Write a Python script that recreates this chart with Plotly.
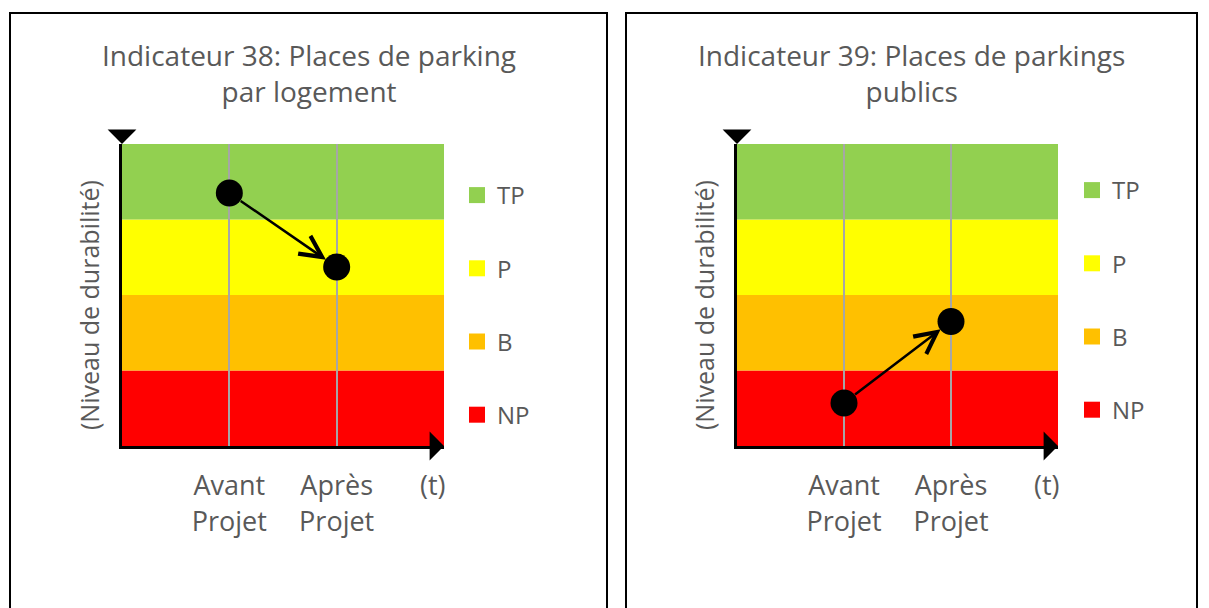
import plotly.graph_objects as go

# ---- data ----
levels = ["NP", "B", "P", "TP"]                     # bottom -> top
level_colors = ["#FF0000", "#FFC000", "#FFFF00", "#92D050"]
phases = ["Avant<br>Projet", "Après<br>Projet"]
phase_x = [1, 2]
titles = ["Indicateur 38: Places de parking<br>par logement",
          "Indicateur 39: Places de parkings<br>publics"]
values_38 = [3.35, 2.37]
values_39 = [0.57, 1.65]
series = [values_38, values_39]
y_title = "(Niveau de durabilité)"
t_label = "(t)"

# page has an 8px body margin: lay out in window pixels, shifted
OFF = 8
W, H = 1209 - OFF, 608 - OFF
FONT = "Open Sans"
GREY = "#595959"


def fx(px):
    return (px - OFF) / W


def fy(py):
    return 1 - (py - OFF) / H


fig = go.Figure()

plot_px = [(122, 444), (737, 1058)]
plot_top, plot_bot = 144, 446
panel_px = [(10, 607), (626, 1197)]
legend_top = [173, 168]

for p in range(2):
    xa = "x" if p == 0 else "x2"
    ya = "y" if p == 0 else "y2"
    leg = "legend" if p == 0 else "legend2"
    for name, col in zip(levels[::-1], level_colors[::-1]):
        fig.add_trace(go.Scatter(x=[None], y=[None], mode="markers", name=name,
                                 marker=dict(symbol="square", size=17, color=col),
                                 legend=leg, legendgroup=f"{p}{name}",
                                 xaxis=xa, yaxis=ya, hoverinfo="skip"))
    for i, col in enumerate(level_colors):
        fig.add_shape(type="rect", xref=xa, yref=ya, x0=0, x1=3, y0=i, y1=i + 1,
                      fillcolor=col, line_width=0, layer="below")
    fig.add_trace(go.Scatter(x=phase_x, y=series[p], mode="markers",
                             marker=dict(size=27, color="black"),
                             showlegend=False, xaxis=xa, yaxis=ya))
    fig.add_annotation(x=phase_x[1], y=series[p][1], ax=phase_x[0], ay=series[p][0],
                       xref=xa, yref=ya, axref=xa, ayref=ya, text="",
                       showarrow=True, arrowhead=5, arrowsize=1.7, arrowwidth=2.5,
                       arrowcolor="black", standoff=13, startstandoff=12)
    fig.add_annotation(x=3, y=0, xref=xa, yref=ya, ax=-12, ay=0, text="",
                       showarrow=True, arrowhead=1, arrowsize=1.6, arrowwidth=3,
                       arrowcolor="black")
    fig.add_annotation(x=0, y=4, xref=xa, yref=ya, ax=0, ay=-12, text="",
                       showarrow=True, arrowhead=1, arrowsize=1.6, arrowwidth=3,
                       arrowcolor="black")
    fig.add_annotation(x=2.9, y=0, xref=xa, yref=ya, yshift=-38, text=t_label,
                       showarrow=False, font=dict(family=FONT, size=27, color=GREY))
    cx = (panel_px[p][0] + panel_px[p][1]) / 2
    fig.add_annotation(x=fx(cx), y=fy(73.5), xref="paper", yref="paper", text=titles[p],
                       showarrow=False, xanchor="center", yanchor="middle",
                       font=dict(family=FONT, size=28, color=GREY))
    fig.add_annotation(x=fx(plot_px[p][0] - 33), y=fy(305), xref="paper", yref="paper",
                       text=y_title, textangle=-90, showarrow=False,
                       xanchor="center", yanchor="middle",
                       font=dict(family=FONT, size=25, color=GREY))
    fig.add_shape(type="rect", xref="paper", yref="paper",
                  x0=fx(panel_px[p][0]), x1=fx(panel_px[p][1]),
                  y0=-0.05, y1=fy(13), line=dict(color="black", width=2),
                  fillcolor="rgba(0,0,0,0)", layer="above")

xcommon = dict(range=[0, 3], tickvals=[1, 2, 3], ticktext=phases + [""],
               showgrid=True, gridcolor="#A6A6A6", gridwidth=2, zeroline=False,
               showline=True, linecolor="black", linewidth=3, ticks="",
               ticklabelstandoff=14,
               tickfont=dict(family=FONT, size=27, color=GREY), fixedrange=True)
ycommon = dict(range=[0, 4], showgrid=False, zeroline=False, showticklabels=False,
               showline=True, linecolor="black", linewidth=3, ticks="",
               fixedrange=True)

ydom = [fy(plot_bot), fy(plot_top)]
legcommon = dict(xanchor="left", yanchor="top", tracegroupgap=39,
                 font=dict(family=FONT, size=24, color=GREY),
                 bgcolor="rgba(0,0,0,0)", itemwidth=30)
fig.update_layout(
    width=W, height=H, margin=dict(l=0, r=0, t=0, b=0),
    paper_bgcolor="white", plot_bgcolor="white",
    xaxis=dict(domain=[fx(plot_px[0][0]), fx(plot_px[0][1])], anchor="y", **xcommon),
    yaxis=dict(domain=ydom, anchor="x", **ycommon),
    xaxis2=dict(domain=[fx(plot_px[1][0]), fx(plot_px[1][1])], anchor="y2", **xcommon),
    yaxis2=dict(domain=ydom, anchor="x2", **ycommon),
    legend=dict(x=fx(457), y=fy(legend_top[0]), **legcommon),
    legend2=dict(x=fx(1072), y=fy(legend_top[1]), **legcommon),
    showlegend=True,
)

fig.write_html("out.html")
